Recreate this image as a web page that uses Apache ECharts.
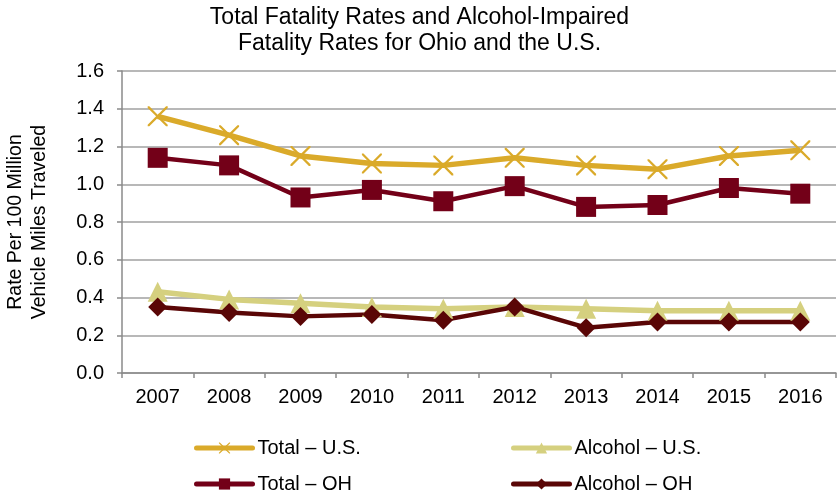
<!DOCTYPE html>
<html>
<head>
<meta charset="utf-8">
<script src="https://cdn.jsdelivr.net/npm/echarts@6/dist/echarts.min.js"></script>
<style>html,body{margin:0;padding:0;background:#fff}#c{width:839px;height:498px}</style>
</head>
<body>
<div id="c"></div>
<script>
const years = ['2007','2008','2009','2010','2011','2012','2013','2014','2015','2016'];
const totalUS = [1.36, 1.26, 1.15, 1.11, 1.10, 1.14, 1.10, 1.08, 1.15, 1.18];
const totalOH = [1.14, 1.10, 0.93, 0.97, 0.91, 0.99, 0.88, 0.89, 0.98, 0.95];
const alcoholUS = [0.43, 0.39, 0.37, 0.35, 0.34, 0.35, 0.34, 0.33, 0.33, 0.33];
const alcoholOH = [0.35, 0.32, 0.30, 0.31, 0.28, 0.35, 0.24, 0.27, 0.27, 0.27];
const yTicks = [0, 1.6, 0.2];

const FONT = '"Liberation Sans", Arial, sans-serif';
const cross = 'path://M0,0 L0.8,0 L5,4.2 L9.2,0 L10,0 L10,0.8 L5.8,5 L10,9.2 L10,10 L9.2,10 L5,5.8 L0.8,10 L0,10 L0,9.2 L4.2,5 L0,0.8 Z';
const cUS = '#DAAA2A', cAUS = '#D5D07F', cOH = '#730018', cAOH = '#5A0606';

function leg(name, left, top, lw) {
  return {data: [name], left: left, top: top, padding: 0,
    itemWidth: 56, itemHeight: 14, itemGap: 5,
    lineStyle: {width: lw, cap: 'round'},
    textStyle: {fontFamily: FONT, fontSize: 20, color: '#000'}};
}

const chart = echarts.init(document.getElementById('c'), null, {renderer: 'canvas'});
chart.setOption({
  animation: false,
  textStyle: {fontFamily: FONT},
  title: {
    text: 'Total Fatality Rates and Alcohol-Impaired\nFatality Rates for Ohio and the U.S.',
    left: 'center', top: 5, padding: 0,
    textStyle: {fontFamily: FONT, fontSize: 23, fontWeight: 'normal', color: '#000', lineHeight: 26}
  },
  grid: {left: 122, right: 3, top: 71, bottom: 125, containLabel: false, outerBoundsMode: 'none'},
  legend: [
    leg('Total – U.S.', 194, 438, 5),
    leg('Total – OH', 194, 474, 5),
    leg('Alcohol – U.S.', 511, 438, 5),
    leg('Alcohol – OH', 511, 474, 5)
  ],
  xAxis: {
    type: 'category', data: years, boundaryGap: true,
    axisLine: {lineStyle: {color: '#8a8a8a', width: 1.5}},
    axisTick: {show: true, alignWithLabel: false, length: 5, lineStyle: {color: '#8a8a8a', width: 1.5}},
    axisLabel: {fontFamily: FONT, fontSize: 20, color: '#000', margin: 14},
    splitLine: {show: false}
  },
  yAxis: {
    type: 'value', min: yTicks[0], max: yTicks[1], interval: yTicks[2],
    name: 'Rate Per 100 Million\nVehicle Miles Traveled',
    nameLocation: 'middle', nameGap: 70, nameRotate: 90,
    nameTextStyle: {fontFamily: FONT, fontSize: 19.5, color: '#000', lineHeight: 24},
    axisLine: {show: true, lineStyle: {color: '#8a8a8a', width: 1.5}},
    axisTick: {show: true, length: 5, lineStyle: {color: '#8a8a8a', width: 1.5}},
    axisLabel: {fontFamily: FONT, fontSize: 20, color: '#000', margin: 18,
      formatter: v => v.toFixed(1)},
    splitLine: {show: true, lineStyle: {color: '#a0a0a0', width: 1.5}}
  },
  series: [
    {name: 'Total – U.S.', type: 'line', data: totalUS, symbol: cross, symbolSize: 20,
     lineStyle: {color: cUS, width: 5.5}, itemStyle: {color: cUS}},
    {name: 'Total – OH', type: 'line', data: totalOH, symbol: 'rect', symbolSize: 20,
     lineStyle: {color: cOH, width: 4.5}, itemStyle: {color: cOH}},
    {name: 'Alcohol – U.S.', type: 'line', data: alcoholUS, symbol: 'triangle', symbolSize: 20,
     lineStyle: {color: cAUS, width: 5.5}, itemStyle: {color: cAUS}},
    {name: 'Alcohol – OH', type: 'line', data: alcoholOH, symbol: 'diamond', symbolSize: 19,
     lineStyle: {color: cAOH, width: 4.5}, itemStyle: {color: cAOH}}
  ]
});
</script>
</body>
</html>
